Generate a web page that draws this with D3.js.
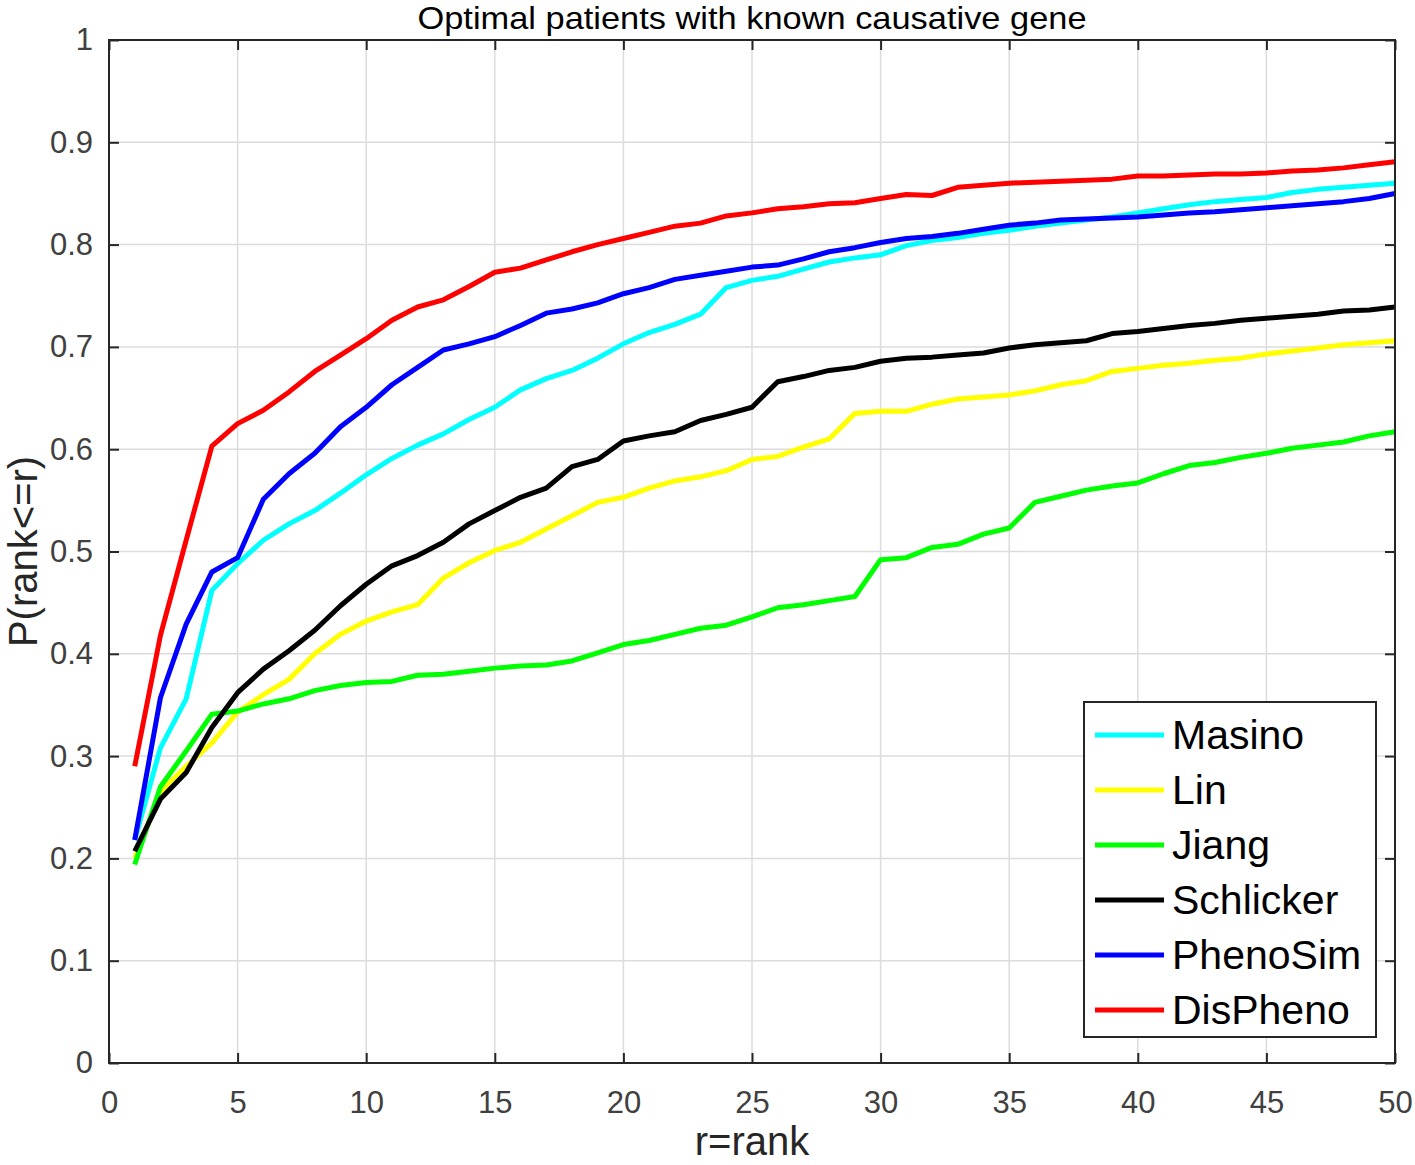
<!DOCTYPE html>
<html lang="en">
<head>
  <meta charset="UTF-8">
  <title>Optimal patients with known causative gene</title>
  <script src="https://d3js.org/d3.v7.min.js"></script>
  <style>
    body { margin: 0; background: #fff; }
    svg { display: block; font-family: "Liberation Sans", Arial, Helvetica, sans-serif; }
    .tick text { fill: #404040; font-size: 31px; }
    .axis-label { font-size: 40px; fill: #262626; }
    .title { font-size: 32px; fill: #000; }
    .legend-text { font-size: 41px; fill: #000; }
  </style>
</head>
<body>
  <svg width="1415" height="1165"></svg>

  <script>
    const ranks = d3.range(1, 51);

    const masino = [0.218, 0.308, 0.356, 0.462, 0.488, 0.511, 0.527, 0.540, 0.557, 0.575,
      0.591, 0.604, 0.615, 0.629, 0.641, 0.658, 0.669, 0.677, 0.689, 0.703,
      0.714, 0.722, 0.732, 0.758, 0.765, 0.769, 0.776, 0.783, 0.787, 0.790,
      0.799, 0.804, 0.807, 0.811, 0.814, 0.818, 0.821, 0.824, 0.827, 0.831,
      0.835, 0.839, 0.842, 0.844, 0.846, 0.851, 0.854, 0.856, 0.858, 0.860];

    const lin = [0.200, 0.265, 0.290, 0.313, 0.343, 0.360, 0.375, 0.400, 0.419, 0.432,
      0.441, 0.448, 0.474, 0.489, 0.501, 0.509, 0.522, 0.535, 0.548, 0.553,
      0.562, 0.569, 0.573, 0.579, 0.590, 0.593, 0.602, 0.610, 0.635, 0.637,
      0.637, 0.644, 0.649, 0.651, 0.653, 0.657, 0.663, 0.667, 0.676, 0.679,
      0.682, 0.684, 0.687, 0.689, 0.693, 0.696, 0.699, 0.702, 0.704, 0.706];

    const jiang = [0.194, 0.270, 0.305, 0.341, 0.344, 0.351, 0.356, 0.364, 0.369, 0.372,
      0.373, 0.379, 0.380, 0.383, 0.386, 0.388, 0.389, 0.393, 0.401, 0.409,
      0.413, 0.419, 0.425, 0.428, 0.436, 0.445, 0.448, 0.452, 0.456, 0.492,
      0.494, 0.504, 0.507, 0.517, 0.523, 0.548, 0.554, 0.560, 0.564, 0.567,
      0.576, 0.584, 0.587, 0.592, 0.596, 0.601, 0.604, 0.607, 0.613, 0.617];

    const schlicker = [0.207, 0.258, 0.284, 0.328, 0.362, 0.385, 0.403, 0.423, 0.447, 0.468,
      0.486, 0.496, 0.509, 0.527, 0.540, 0.553, 0.562, 0.583, 0.590, 0.608,
      0.613, 0.617, 0.628, 0.634, 0.641, 0.666, 0.671, 0.677, 0.680, 0.686,
      0.689, 0.690, 0.692, 0.694, 0.699, 0.702, 0.704, 0.706, 0.713, 0.715,
      0.718, 0.721, 0.723, 0.726, 0.728, 0.730, 0.732, 0.735, 0.736, 0.739];

    const phenoSim = [0.218, 0.357, 0.429, 0.480, 0.494, 0.551, 0.576, 0.596, 0.622, 0.641,
      0.663, 0.680, 0.697, 0.703, 0.710, 0.721, 0.733, 0.737, 0.743, 0.752,
      0.758, 0.766, 0.770, 0.774, 0.778, 0.780, 0.786, 0.793, 0.797, 0.802,
      0.806, 0.808, 0.811, 0.815, 0.819, 0.821, 0.824, 0.825, 0.826, 0.827,
      0.829, 0.831, 0.832, 0.834, 0.836, 0.838, 0.840, 0.842, 0.845, 0.850];

    const disPheno = [0.290, 0.418, 0.511, 0.603, 0.625, 0.638, 0.656, 0.676, 0.692, 0.708,
      0.726, 0.739, 0.746, 0.759, 0.773, 0.777, 0.785, 0.793, 0.800, 0.806,
      0.812, 0.818, 0.821, 0.828, 0.831, 0.835, 0.837, 0.840, 0.841, 0.845,
      0.849, 0.848, 0.856, 0.858, 0.860, 0.861, 0.862, 0.863, 0.864, 0.867,
      0.867, 0.868, 0.869, 0.869, 0.870, 0.872, 0.873, 0.875, 0.878, 0.881];

    const seriesNames = ["Masino", "Lin", "Jiang", "Schlicker", "PhenoSim", "DisPheno"];
    const seriesValues = [masino, lin, jiang, schlicker, phenoSim, disPheno];
    const seriesColors = ["#00ffff", "#ffff00", "#00ff00", "#000000", "#0000ff", "#ff0000"];

    const xTicks = [0, 5, 10, 15, 20, 25, 30, 35, 40, 45, 50];
    const yTicks = [0, 0.1, 0.2, 0.3, 0.4, 0.5, 0.6, 0.7, 0.8, 0.9, 1];

    const margin = { top: 40, right: 20, bottom: 102, left: 109 };
    const width = 1415 - margin.left - margin.right;
    const height = 1165 - margin.top - margin.bottom;

    const svg = d3.select("svg");
    const g = svg.append("g")
      .attr("transform", `translate(${margin.left},${margin.top})`);

    const xScale = d3.scaleLinear().domain([0, 50]).range([0, width]);
    const yScale = d3.scaleLinear().domain([0, 1]).range([height, 0]);

    // grid
    g.append("g")
      .selectAll("line")
      .data(xTicks.slice(1, -1))
      .enter()
      .append("line")
      .attr("x1", d => xScale(d)).attr("x2", d => xScale(d))
      .attr("y1", 0).attr("y2", height)
      .attr("stroke", "#dcdcdc").attr("stroke-width", 1.5);

    g.append("g")
      .selectAll("line")
      .data(yTicks.slice(1, -1))
      .enter()
      .append("line")
      .attr("y1", d => yScale(d)).attr("y2", d => yScale(d))
      .attr("x1", 0).attr("x2", width)
      .attr("stroke", "#dcdcdc").attr("stroke-width", 1.5);

    // axes, ticks pointing inward
    const fmtY = d => d === 0 ? "0" : d === 1 ? "1" : d3.format(".1f")(d);

    const xAxis = g.append("g")
      .attr("transform", `translate(0,${height})`)
      .call(d3.axisBottom(xScale).tickValues(xTicks).tickSizeInner(-10).tickSizeOuter(0).tickPadding(22));

    g.append("g")
      .call(d3.axisLeft(yScale).tickValues(yTicks).tickFormat(fmtY).tickSizeInner(-10).tickSizeOuter(0).tickPadding(16));

    g.append("g")
      .call(d3.axisTop(xScale).tickValues(xTicks).tickSizeInner(-10).tickSizeOuter(0).tickFormat(""));

    g.append("g")
      .attr("transform", `translate(${width},0)`)
      .call(d3.axisRight(yScale).tickValues(yTicks).tickSizeInner(-10).tickSizeOuter(0).tickFormat(""));

    g.selectAll(".domain").attr("stroke", "none");
    g.selectAll(".tick line").attr("stroke", "#262626").attr("stroke-width", 2);
    xAxis.selectAll(".tick text").attr("dy", "0.9em");

    // lines
    const line = d3.line()
      .x((d, i) => xScale(ranks[i]))
      .y(d => yScale(d));

    g.selectAll(".series")
      .data(seriesValues)
      .enter()
      .append("path")
      .attr("class", "series")
      .attr("d", d => line(d))
      .attr("fill", "none")
      .attr("stroke", (d, i) => seriesColors[i])
      .attr("stroke-width", 5)
      .attr("stroke-linejoin", "round");

    // box
    g.append("rect")
      .attr("x", 0).attr("y", 0)
      .attr("width", width).attr("height", height)
      .attr("fill", "none")
      .attr("stroke", "#262626")
      .attr("stroke-width", 2);

    // labels
    svg.append("text")
      .attr("class", "title")
      .attr("x", margin.left + width / 2)
      .attr("y", 29)
      .attr("text-anchor", "middle")
      .attr("textLength", 669)
      .attr("lengthAdjust", "spacingAndGlyphs")
      .text("Optimal patients with known causative gene");

    svg.append("text")
      .attr("class", "axis-label")
      .attr("x", margin.left + width / 2)
      .attr("y", 1155)
      .attr("text-anchor", "middle")
      .text("r=rank");

    svg.append("text")
      .attr("class", "axis-label")
      .attr("transform", "rotate(-90)")
      .attr("x", -(margin.top + height / 2))
      .attr("y", 37)
      .attr("text-anchor", "middle")
      .text("P(rank<=r)");

    // legend
    const legend = g.append("g")
      .attr("transform", `translate(${1084 - margin.left},${702 - margin.top})`);

    legend.append("rect")
      .attr("width", 292).attr("height", 335)
      .attr("fill", "#fff")
      .attr("stroke", "#262626")
      .attr("stroke-width", 2);

    const items = legend.selectAll(".item")
      .data(seriesNames)
      .enter()
      .append("g")
      .attr("class", "item")
      .attr("transform", (d, i) => `translate(0,${33 + i * 55})`);

    items.append("line")
      .attr("x1", 11).attr("x2", 80)
      .attr("y1", 0).attr("y2", 0)
      .attr("stroke", (d, i) => seriesColors[i])
      .attr("stroke-width", 5);

    items.append("text")
      .attr("class", "legend-text")
      .attr("x", 88)
      .attr("y", 14)
      .text(d => d);
  </script>
</body>
</html>
